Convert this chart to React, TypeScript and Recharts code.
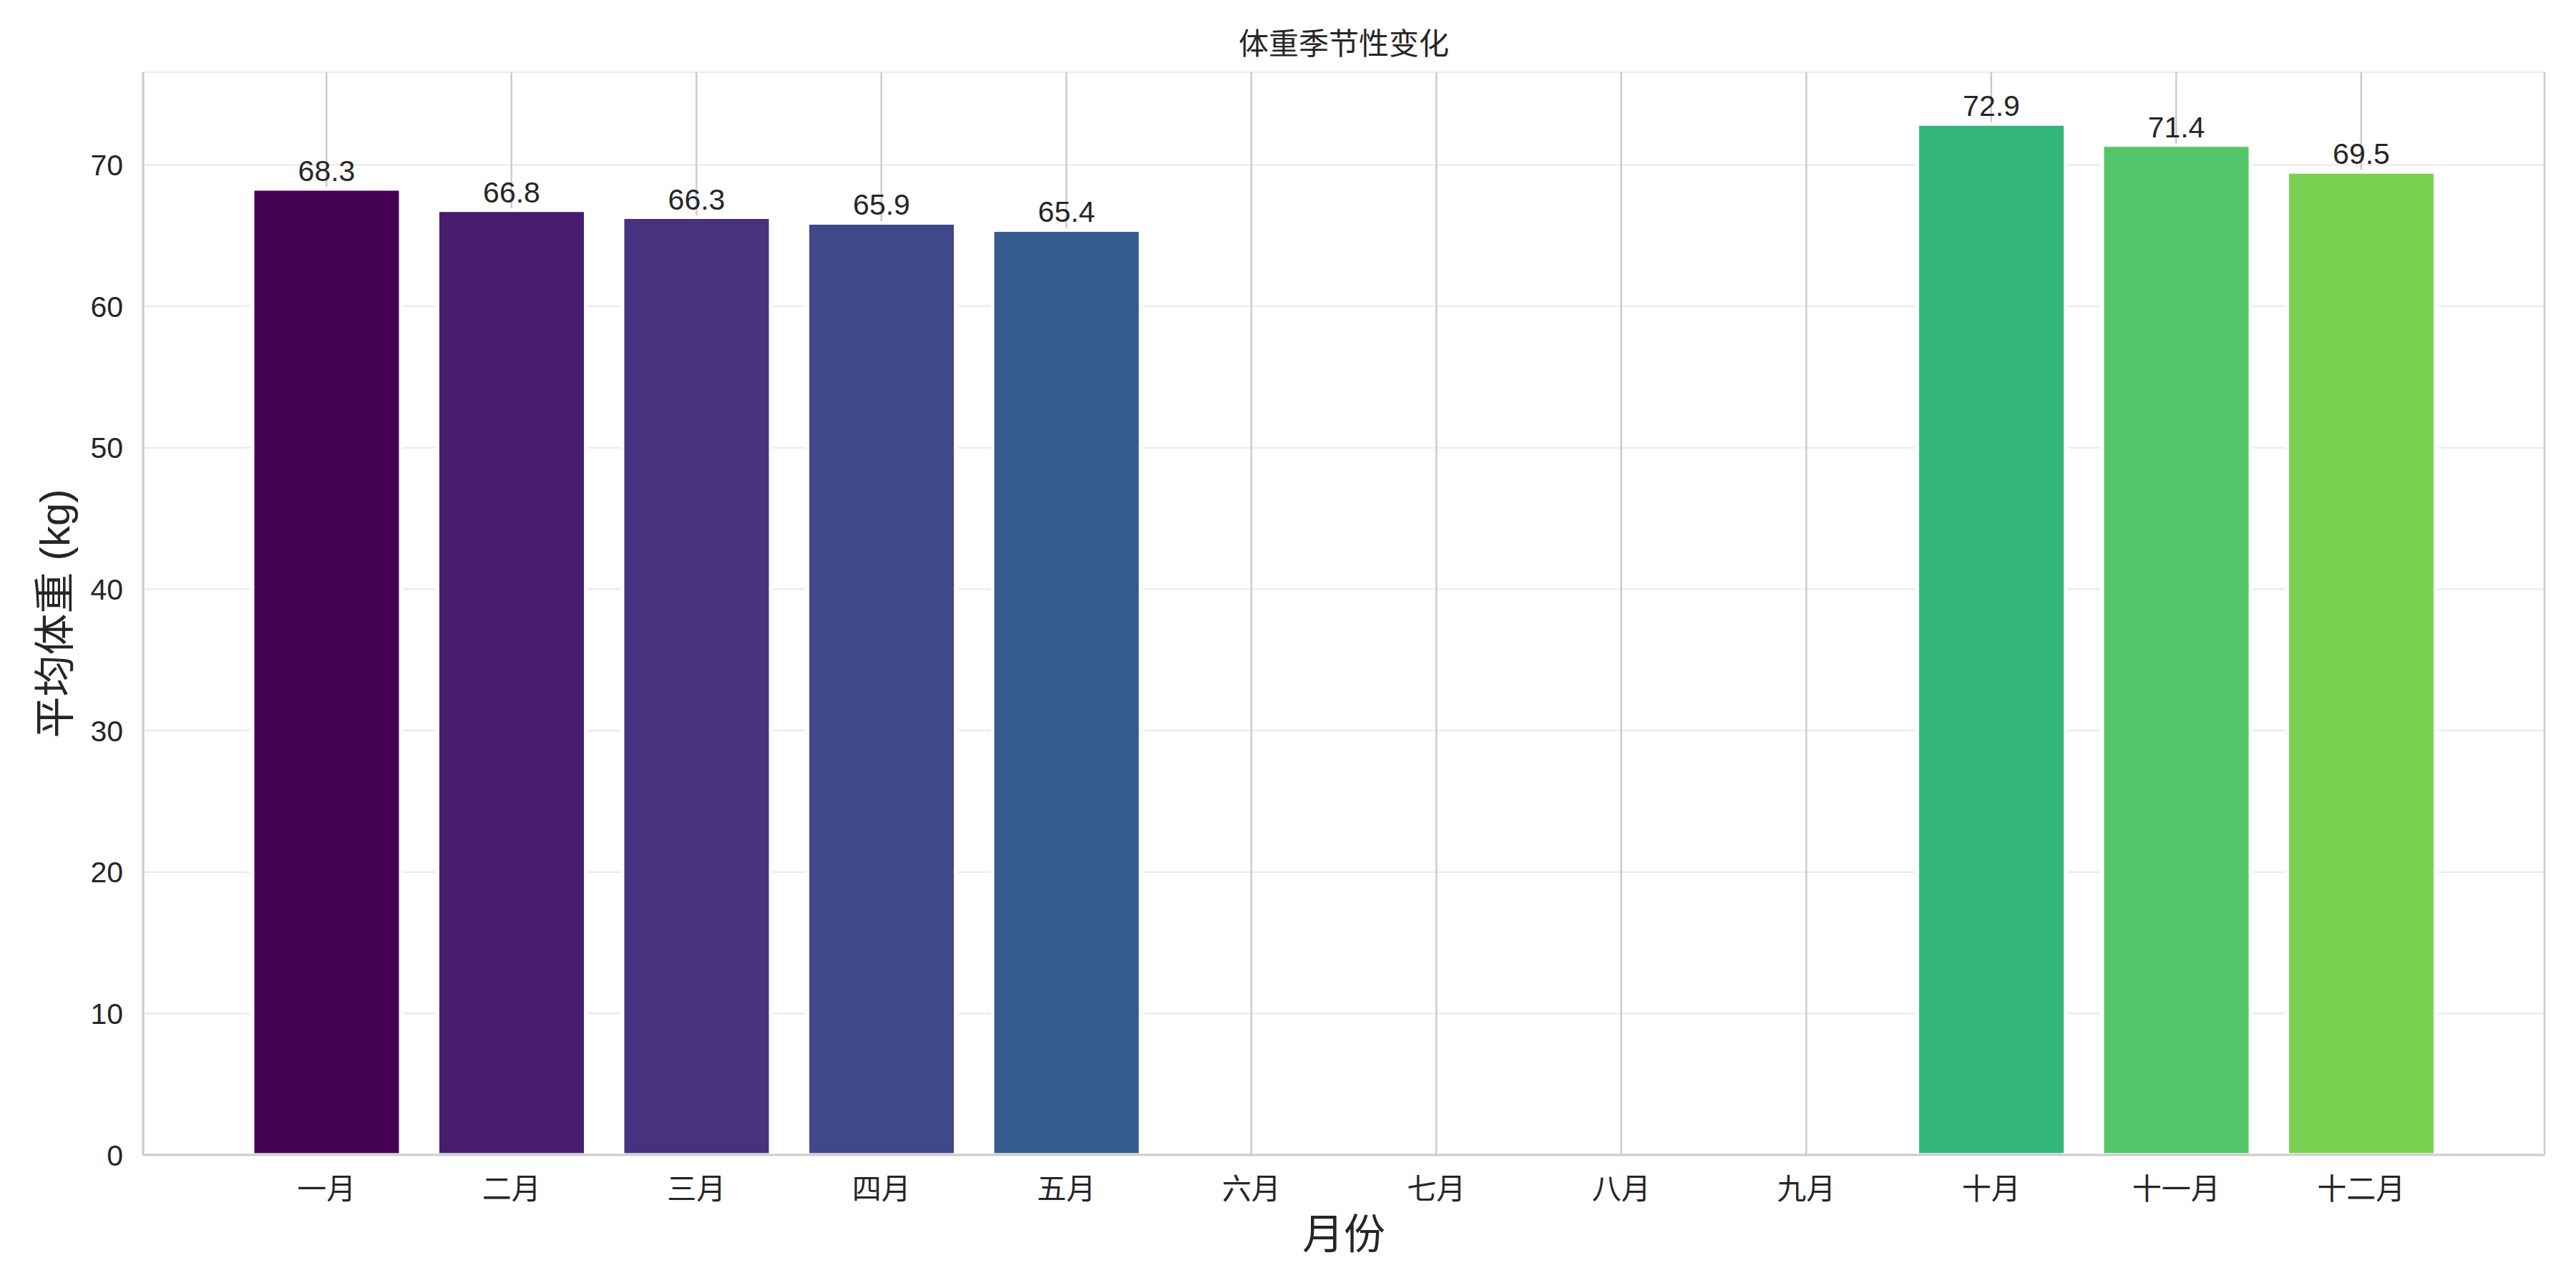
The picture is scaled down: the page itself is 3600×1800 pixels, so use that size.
import React from 'react';
import {
  BarChart,
  Bar,
  XAxis,
  YAxis,
  CartesianGrid,
  Cell,
  LabelList,
  Label,
} from 'recharts';

// months without data are kept as null so the axis still shows them
const months = ['一月', '二月', '三月', '四月', '五月', '六月', '七月', '八月', '九月', '十月', '十一月', '十二月'];
const avgWeight: (number | null)[] = [68.3, 66.8, 66.3, 65.9, 65.4, null, null, null, null, 72.9, 71.4, 69.5];
const barColors = [
  '#440154', '#481c6e', '#46327e', '#3f4889', '#365c8d',
  '#2e6f8e', '#26828e', '#1f958b', '#27ab82',
  '#33b67a', '#54c568', '#7ad151',
];
const yTicks = [0, 10, 20, 30, 40, 50, 60, 70];

const data = months.map((m, i) => ({ month: m, weight: avgWeight[i] }));

const FONT = '"Liberation Sans", Arial, "Noto Sans CJK SC", sans-serif';
const INK = '#262626';

const App: React.FC = () => {
  return (
    <div style={{ width: 3600, height: 1800, fontFamily: FONT }}>
      <style>{'body{margin:0}'}</style>
      <BarChart
        width={3600}
        height={1800}
        data={data}
        margin={{ top: 101, right: 44, left: 0, bottom: 0 }}
      >
        <CartesianGrid horizontal vertical={false} stroke="#ededed" strokeWidth={2.5} />
        <CartesianGrid horizontal={false} vertical stroke="#cccccc" strokeWidth={2.5} />
        <XAxis
          dataKey="month"
          height={186}
          padding={{ left: 127, right: 127 }}
          tickLine={false}
          tickSize={0}
          tickMargin={33}
          axisLine={{ stroke: '#cccccc', strokeWidth: 3 }}
          tick={{ fill: INK, fontSize: 41, fontFamily: FONT }}
          interval={0}
        >
          <Label
            content={({ viewBox }: any) => (
              <text
                x={viewBox.x + viewBox.width / 2}
                y={1724}
                textAnchor="middle"
                dominantBaseline="central"
                fill={INK}
                fontSize={58}
                fontFamily={FONT}
              >
                月份
              </text>
            )}
          />
          {/* chart title, centred over the plot area */}
          <Label
            content={({ viewBox }: any) => (
              <text
                x={viewBox.x + viewBox.width / 2}
                y={61}
                textAnchor="middle"
                dominantBaseline="central"
                fill={INK}
                fontSize={42}
                fontFamily={FONT}
              >
                体重季节性变化
              </text>
            )}
          />
        </XAxis>
        <XAxis
          xAxisId="top"
          orientation="top"
          dataKey="month"
          height={0}
          padding={{ left: 127, right: 127 }}
          tick={false}
          tickLine={false}
          axisLine={{ stroke: '#cccccc', strokeWidth: 3 }}
        />
        <YAxis
          width={200}
          domain={[0, 76.55]}
          ticks={yTicks}
          tickLine={false}
          tickSize={0}
          tickMargin={28}
          axisLine={{ stroke: '#cccccc', strokeWidth: 3 }}
          tick={{ fill: INK, fontSize: 41, fontFamily: FONT }}
          allowDataOverflow
        >
          <Label
            content={({ viewBox }: any) => {
              const cx = 76;
              const cy = viewBox.y + viewBox.height / 2;
              return (
                <text
                  x={cx}
                  y={cy}
                  transform={`rotate(-90 ${cx} ${cy})`}
                  textAnchor="middle"
                  dominantBaseline="central"
                  fill={INK}
                  fontSize={58}
                  fontFamily={FONT}
                >
                  平均体重 (kg)
                </text>
              );
            }}
          />
        </YAxis>
        <YAxis
          yAxisId="right"
          orientation="right"
          width={0}
          domain={[0, 76.55]}
          tick={false}
          tickLine={false}
          axisLine={{ stroke: '#cccccc', strokeWidth: 3 }}
        />
        <Bar
          dataKey="weight"
          barSize={207}
          stroke="#ffffff"
          strokeWidth={5}
          isAnimationActive={false}
        >
          {data.map((d, i) => (
            <Cell key={d.month} fill={barColors[i]} />
          ))}
          <LabelList
            dataKey="weight"
            position="top"
            offset={11}
            fill={INK}
            fontSize={41}
            fontFamily={FONT}
            formatter={(v: any) => (v == null ? '' : Number(v).toFixed(1))}
          />
        </Bar>
      </BarChart>
    </div>
  );
};

export default App;
